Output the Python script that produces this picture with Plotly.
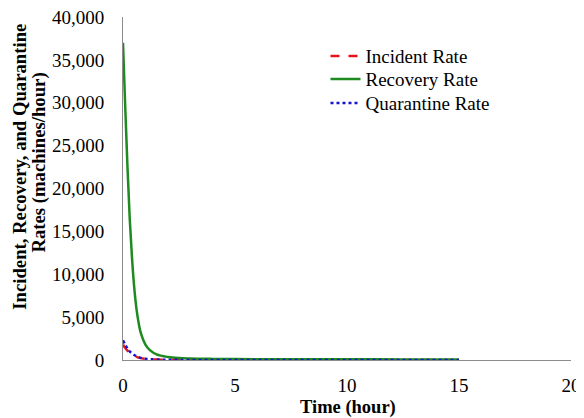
import plotly.graph_objects as go

# Time (hour)
time_recovery = [0, 0.1, 0.2, 0.3, 0.4, 0.5, 0.6, 0.7, 0.8, 1.0, 1.2, 1.5, 2.0, 2.5, 3, 4, 5, 7.5, 10, 12.5, 15]
recovery_rate = [37000, 29500, 22500, 16500, 12000, 8500, 6000, 4300, 3100, 1800, 1150, 650, 350, 220, 170, 130, 110, 90, 80, 70, 65]

time_small = [0, 0.1, 0.2, 0.3, 0.5, 0.75, 1.0, 1.5, 2.0, 3, 5, 10, 15]
incident_rate = [1800, 1400, 1100, 850, 500, 250, 130, 50, 25, 10, 5, 3, 2]
quarantine_rate = [2300, 1800, 1350, 1000, 580, 280, 140, 55, 25, 10, 5, 3, 2]

x_ticks = [0, 5, 10, 15, 20]
y_ticks = [0, 5000, 10000, 15000, 20000, 25000, 30000, 35000, 40000]

font_family = "Liberation Serif"

fig = go.Figure()
fig.add_trace(go.Scatter(x=time_small, y=incident_rate, mode="lines", name="Incident Rate",
                         legend="legend",
                         line=dict(color="#e8141c", width=2.5, dash="dash", shape="spline")))
fig.add_trace(go.Scatter(x=time_recovery, y=recovery_rate, mode="lines", name="Recovery Rate",
                         legend="legend2",
                         line=dict(color="#1f8a1f", width=2.5, shape="spline")))
fig.add_trace(go.Scatter(x=time_small, y=quarantine_rate, mode="lines", name="Quarantine Rate",
                         legend="legend3",
                         line=dict(color="#1515d0", width=2.5, dash="dot", shape="spline")))

legend_common = dict(x=0.452, xanchor="left", yanchor="middle", bgcolor="rgba(0,0,0,0)",
                     font=dict(size=19), itemwidth=30, borderwidth=0)

# the page body adds an 8px margin, so the figure is sized to fit inside it
fig.update_layout(
    width=576, height=410,
    margin=dict(l=115, r=13, t=9, b=58, autoexpand=False),
    paper_bgcolor="white", plot_bgcolor="white",
    font=dict(family=font_family, size=19, color="black"),
    showlegend=True,
    legend=dict(y=0.886, **legend_common),
    legend2=dict(y=0.819, **legend_common),
    legend3=dict(y=0.749, **legend_common),
    xaxis=dict(range=[0, 20], tickvals=x_ticks, showgrid=False, zeroline=False,
               showline=True, linecolor="#8c8c8c", linewidth=1,
               ticks="outside", ticklen=8, tickcolor="rgba(0,0,0,0)",
               automargin=False, ticklabeloverflow="allow", tickfont=dict(size=19)),
    yaxis=dict(range=[0, 40000], tickvals=y_ticks, tickformat=",", showgrid=False, zeroline=False,
               showline=True, linecolor="#8c8c8c", linewidth=1,
               ticks="outside", ticklen=14, tickcolor="rgba(0,0,0,0)",
               automargin=False, ticklabeloverflow="allow", tickfont=dict(size=19)),
    annotations=[
        dict(text="<b>Incident, Recovery, and Quarantine</b>",
             xref="paper", yref="paper", x=-0.2299, y=0.5636, textangle=-90,
             showarrow=False, font=dict(size=18.7), xanchor="center", yanchor="middle"),
        dict(text="<b>Rates (machines/hour)</b>",
             xref="paper", yref="paper", x=-0.1875, y=0.5758, textangle=-90,
             showarrow=False, font=dict(size=18.7), xanchor="center", yanchor="middle"),
        dict(text="<b>Time (hour)</b>", xref="paper", yref="paper", x=0.502, y=-0.1385,
             showarrow=False, font=dict(size=18.5), xanchor="center", yanchor="middle"),
    ],
)

fig.write_html("out.html")
